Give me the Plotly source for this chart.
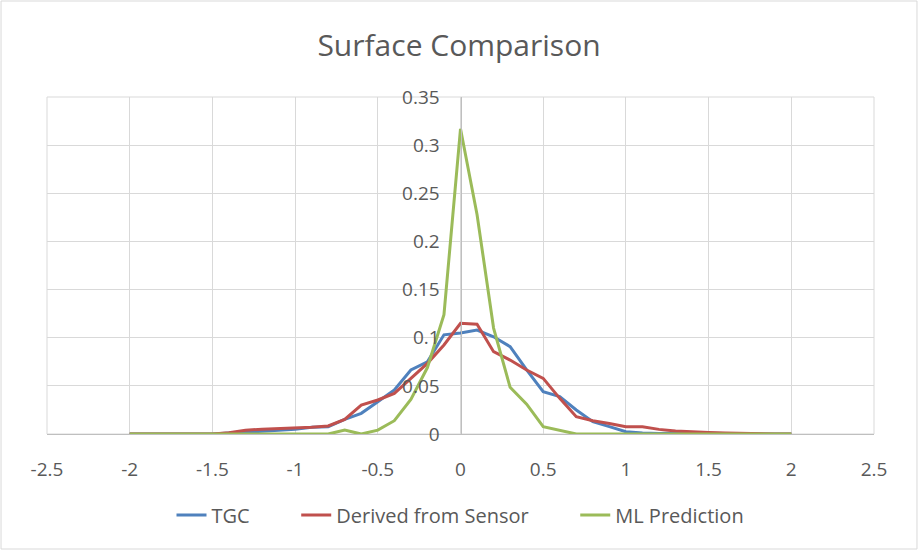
import plotly.graph_objects as go

x_vals = [round(-2 + 0.1 * i, 1) for i in range(41)]

tgc = [0, 0, 0, 0, 0, 0, 0.001, 0.002, 0.003, 0.004, 0.0048,
       0.007, 0.0076, 0.0152, 0.0215, 0.0336, 0.0457, 0.0665, 0.075, 0.103,
       0.105,
       0.108, 0.101, 0.0907, 0.0665, 0.044, 0.0388, 0.025, 0.0128, 0.0076, 0.0024,
       0.001, 0.0005, 0.001, 0.001, 0.001, 0.0005, 0, 0, 0, 0]

derived = [0, 0, 0, 0, 0, 0, 0.0013, 0.004, 0.005, 0.0055, 0.0065,
           0.007, 0.0083, 0.0152, 0.030, 0.0353, 0.0422, 0.0578, 0.0734, 0.0924,
           0.115,
           0.114, 0.0855, 0.0768, 0.0665, 0.0578, 0.037, 0.018, 0.0138, 0.011, 0.0076,
           0.0076, 0.0048, 0.003, 0.002, 0.0015, 0.001, 0.0005, 0, 0, 0]

ml_pred = [0, 0, 0, 0, 0, 0, 0, 0, 0, 0, 0,
           0, 0, 0.004, 0, 0.004, 0.0138, 0.036, 0.069, 0.124,
           0.317,
           0.228, 0.110, 0.0485, 0.031, 0.0076, 0.004, 0, 0, 0, 0,
           0, 0, 0, 0, 0, 0, 0, 0, 0, 0]

series_names = ["TGC", "Derived from Sensor", "ML Prediction"]
colors = ["#4F81BD", "#C0504D", "#9BBB59"]

x_ticks = [-2.5, -2, -1.5, -1, -0.5, 0, 0.5, 1, 1.5, 2, 2.5]
x_tick_labels = ["-2.5", "-2", "-1.5", "-1", "-0.5", "0", "0.5", "1", "1.5", "2", "2.5"]
y_ticks = [0, 0.05, 0.1, 0.15, 0.2, 0.25, 0.3, 0.35]
y_tick_labels = ["0", "0.05", "0.1", "0.15", "0.2", "0.25", "0.3", "0.35"]

fig = go.Figure()
for i, (name, ys, c) in enumerate(zip(series_names, [tgc, derived, ml_pred], colors)):
    pad = "\u00a0" * 8 if i < len(series_names) - 1 else ""
    fig.add_trace(go.Scatter(x=x_vals, y=ys, mode="lines", name=name + pad,
                             line=dict(color=c, width=3)))

font_family = "Open Sans, Liberation Sans, sans-serif"
fig.update_layout(
    width=918, height=550,
    margin=dict(l=46.5, r=44, t=97, b=116),
    paper_bgcolor="white", plot_bgcolor="white",
    title=dict(text="Surface Comparison", x=0.5, xanchor="center", y=1 - 45 / 550, yanchor="middle",
               font=dict(family=font_family, size=30, color="#595959")),
    font=dict(family=font_family, color="#595959"),
    showlegend=True,
    legend=dict(orientation="h", x=0.5, xanchor="center", y=-0.24, yanchor="middle",
                font=dict(size=20, color="#595959"), tracegroupgap=0),
    xaxis=dict(range=[-2.5, 2.5], tickvals=x_ticks, ticktext=x_tick_labels,
               showgrid=True, gridcolor="#D9D9D9", gridwidth=1,
               zeroline=False, showline=True, linecolor="#BFBFBF", linewidth=1,
               ticks="outside", ticklen=18, tickcolor="rgba(0,0,0,0)",
               tickfont=dict(size=19, color="#595959")),
    yaxis=dict(range=[0, 0.35], tickvals=y_ticks, ticktext=y_tick_labels,
               showgrid=True, gridcolor="#D9D9D9", gridwidth=1,
               zeroline=False, showline=True, linecolor="#BFBFBF", linewidth=1,
               anchor="free", position=0.5,
               ticks="outside", ticklen=17, tickcolor="rgba(0,0,0,0)",
               tickfont=dict(size=19, color="#595959")),
)
# plot-area edge gridlines
fig.add_shape(type="rect", xref="paper", yref="paper", x0=0, x1=1, y0=0, y1=1,
              line=dict(color="#D9D9D9", width=1), fillcolor="rgba(0,0,0,0)", layer="below")
# outer chart border
fig.add_shape(type="rect", xref="paper", yref="paper",
              x0=-46 / 827.5, x1=1 + 43 / 827.5, y0=-115 / 337, y1=1 + 96 / 337,
              line=dict(color="#D9D9D9", width=1), fillcolor="rgba(0,0,0,0)", layer="below")

fig.write_html("out.html")
